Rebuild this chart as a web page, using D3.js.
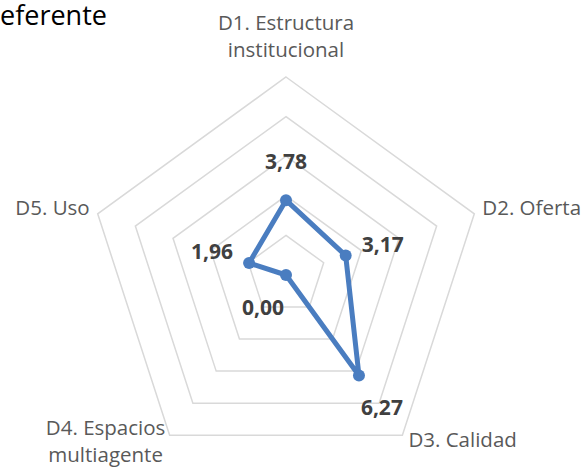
<!DOCTYPE html>
<html>
<head>
<meta charset="utf-8">
<script src="https://cdn.jsdelivr.net/npm/d3@7"></script>
<style>
  html, body { margin: 0; padding: 0; background: #fff; }
  svg { display: block; font-family: "Open Sans", sans-serif; }
</style>
</head>
<body>
<div id="chart"></div>
<script>
// chart data
var categories = [
    ['D1. Estructura', 'institucional'],
    ['D2. Oferta'],
    ['D3. Calidad'],
    ['D4. Espacios', 'multiagente'],
    ['D5. Uso']
];
var values = [3.78, 3.17, 6.27, 0.00, 1.96];
var ringTicks = [2, 4, 6, 8, 10];
var titleText = 'Referente';

var width = 587, height = 467;
var cx = 286, cy = 275, radius = 198;

var svg = d3.select('#chart').append('svg')
    .attr('width', width)
    .attr('height', height);

var r = d3.scaleLinear().domain([0, d3.max(ringTicks)]).range([0, radius]);
var angle = d3.scaleLinear().domain([0, categories.length]).range([0, 2 * Math.PI]);

function polar(i, v) {
    var a = angle(i);
    return [cx + r(v) * Math.sin(a), cy - r(v) * Math.cos(a)];
}

// title, its first letter sits just off the left edge like the original
var title = svg.append('text')
    .attr('y', 25)
    .style('font-size', '27px')
    .style('fill', '#000')
    .text(titleText);
title.attr('x', -title.node().getSubStringLength(0, 1));

var g = svg.append('g');

// rings
var ringLine = d3.line();
g.selectAll('.ring')
    .data(ringTicks)
    .enter().append('path')
    .attr('class', 'ring')
    .attr('d', function (t) {
        return ringLine(categories.map(function (c, i) { return polar(i, t); })) + 'Z';
    })
    .style('fill', 'none')
    .style('stroke', '#d9d9d9')
    .style('stroke-width', 1.5);

// category labels, offset from the outer vertex
var labelPos = [
    {dx: 0, dy: -47, anchor: 'middle'},
    {dx: 8, dy: 1, anchor: 'start'},
    {dx: 6, dy: 12, anchor: 'start'},
    {dx: -64, dy: 0, anchor: 'middle'},
    {dx: -8, dy: 1, anchor: 'end'}
];
categories.forEach(function (lines, i) {
    var p = polar(i, d3.max(ringTicks));
    var lp = labelPos[i];
    var t = g.append('text')
        .attr('x', p[0] + lp.dx)
        .attr('y', p[1] + lp.dy)
        .attr('text-anchor', lp.anchor)
        .style('font-size', '20.5px')
        .style('fill', '#595959');
    lines.forEach(function (line, k) {
        t.append('tspan')
            .attr('x', p[0] + lp.dx)
            .attr('dy', k === 0 ? 0 : 27)
            .text(line);
    });
});

// series line
var pts = values.map(function (v, i) { return polar(i, v); });
g.append('path')
    .attr('d', d3.line()(pts) + 'Z')
    .style('fill', 'none')
    .style('stroke', '#4a7dc0')
    .style('stroke-width', 5)
    .style('stroke-linejoin', 'round');

g.selectAll('.dot')
    .data(pts)
    .enter().append('circle')
    .attr('class', 'dot')
    .attr('cx', function (d) { return d[0]; })
    .attr('cy', function (d) { return d[1]; })
    .attr('r', 6)
    .style('fill', '#4a7dc0');

// data labels, pushed outward along each axis
var fmt = function (v) { return v.toFixed(2).replace('.', ','); };
g.selectAll('.val')
    .data(values)
    .enter().append('text')
    .attr('class', 'val')
    .attr('x', function (v, i) {
        var p = polar(i, v);
        return p[0] + 39 * Math.sin(angle(i));
    })
    .attr('y', function (v, i) {
        var p = polar(i, v);
        return p[1] - 39 * Math.cos(angle(i));
    })
    .attr('text-anchor', 'middle')
    .attr('dominant-baseline', 'central')
    .style('font-size', '21px')
    .style('font-weight', 'bold')
    .style('fill', '#404040')
    .text(fmt);
</script>
</body>
</html>
